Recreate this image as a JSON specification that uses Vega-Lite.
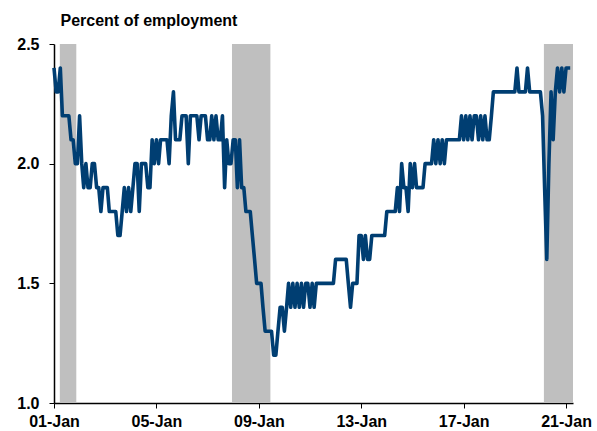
{
  "$schema": "https://vega.github.io/schema/vega-lite/v6.json",
  "width": 519,
  "height": 359,
  "autosize": "none",
  "padding": {"left": 54, "top": 44, "right": 24, "bottom": 28},
  "config": {"view": {"stroke": null}, "font": "Liberation Sans"},
  "datasets": {
    "rec": [
      {"start": "2001-03-25", "end": "2001-11-15"},
      {"start": "2007-12-15", "end": "2009-06-15"},
      {"start": "2020-02-20", "end": "2021-04-10"}
    ],
    "quits": [
      {"d":"2001-01-01","v":2.4},{"d":"2001-02-01","v":2.3},{"d":"2001-03-01","v":2.3},{"d":"2001-04-01","v":2.4},{"d":"2001-05-01","v":2.2},{"d":"2001-06-01","v":2.2},{"d":"2001-07-01","v":2.2},{"d":"2001-08-01","v":2.2},{"d":"2001-09-01","v":2.1},{"d":"2001-10-01","v":2.1},{"d":"2001-11-01","v":2.0},{"d":"2001-12-01","v":2.0},
      {"d":"2002-01-01","v":2.2},{"d":"2002-02-01","v":2.0},{"d":"2002-03-01","v":1.9},{"d":"2002-04-01","v":2.0},{"d":"2002-05-01","v":1.9},{"d":"2002-06-01","v":1.9},{"d":"2002-07-01","v":2.0},{"d":"2002-08-01","v":2.0},{"d":"2002-09-01","v":1.9},{"d":"2002-10-01","v":1.9},{"d":"2002-11-01","v":1.8},{"d":"2002-12-01","v":1.9},
      {"d":"2003-01-01","v":1.9},{"d":"2003-02-01","v":1.9},{"d":"2003-03-01","v":1.8},{"d":"2003-04-01","v":1.8},{"d":"2003-05-01","v":1.8},{"d":"2003-06-01","v":1.8},{"d":"2003-07-01","v":1.7},{"d":"2003-08-01","v":1.7},{"d":"2003-09-01","v":1.8},{"d":"2003-10-01","v":1.9},{"d":"2003-11-01","v":1.8},{"d":"2003-12-01","v":1.9},
      {"d":"2004-01-01","v":1.8},{"d":"2004-02-01","v":1.9},{"d":"2004-03-01","v":2.0},{"d":"2004-04-01","v":2.0},{"d":"2004-05-01","v":1.8},{"d":"2004-06-01","v":2.0},{"d":"2004-07-01","v":2.0},{"d":"2004-08-01","v":2.0},{"d":"2004-09-01","v":1.9},{"d":"2004-10-01","v":1.9},{"d":"2004-11-01","v":2.1},{"d":"2004-12-01","v":2.0},
      {"d":"2005-01-01","v":2.1},{"d":"2005-02-01","v":2.0},{"d":"2005-03-01","v":2.1},{"d":"2005-04-01","v":2.1},{"d":"2005-05-01","v":2.1},{"d":"2005-06-01","v":2.1},{"d":"2005-07-01","v":2.0},{"d":"2005-08-01","v":2.2},{"d":"2005-09-01","v":2.3},{"d":"2005-10-01","v":2.1},{"d":"2005-11-01","v":2.1},{"d":"2005-12-01","v":2.1},
      {"d":"2006-01-01","v":2.2},{"d":"2006-02-01","v":2.2},{"d":"2006-03-01","v":2.2},{"d":"2006-04-01","v":2.0},{"d":"2006-05-01","v":2.2},{"d":"2006-06-01","v":2.2},{"d":"2006-07-01","v":2.2},{"d":"2006-08-01","v":2.2},{"d":"2006-09-01","v":2.1},{"d":"2006-10-01","v":2.2},{"d":"2006-11-01","v":2.2},{"d":"2006-12-01","v":2.2},
      {"d":"2007-01-01","v":2.1},{"d":"2007-02-01","v":2.1},{"d":"2007-03-01","v":2.2},{"d":"2007-04-01","v":2.1},{"d":"2007-05-01","v":2.2},{"d":"2007-06-01","v":2.1},{"d":"2007-07-01","v":2.1},{"d":"2007-08-01","v":2.2},{"d":"2007-09-01","v":1.9},{"d":"2007-10-01","v":2.1},{"d":"2007-11-01","v":2.0},{"d":"2007-12-01","v":2.0},
      {"d":"2008-01-01","v":2.1},{"d":"2008-02-01","v":2.1},{"d":"2008-03-01","v":1.9},{"d":"2008-04-01","v":2.1},{"d":"2008-05-01","v":1.9},{"d":"2008-06-01","v":1.9},{"d":"2008-07-01","v":1.8},{"d":"2008-08-01","v":1.8},{"d":"2008-09-01","v":1.8},{"d":"2008-10-01","v":1.7},{"d":"2008-11-01","v":1.6},{"d":"2008-12-01","v":1.5},
      {"d":"2009-01-01","v":1.5},{"d":"2009-02-01","v":1.5},{"d":"2009-03-01","v":1.4},{"d":"2009-04-01","v":1.3},{"d":"2009-05-01","v":1.3},{"d":"2009-06-01","v":1.3},{"d":"2009-07-01","v":1.3},{"d":"2009-08-01","v":1.2},{"d":"2009-09-01","v":1.2},{"d":"2009-10-01","v":1.3},{"d":"2009-11-01","v":1.4},{"d":"2009-12-01","v":1.4},
      {"d":"2010-01-01","v":1.3},{"d":"2010-02-01","v":1.4},{"d":"2010-03-01","v":1.5},{"d":"2010-04-01","v":1.4},{"d":"2010-05-01","v":1.5},{"d":"2010-06-01","v":1.4},{"d":"2010-07-01","v":1.5},{"d":"2010-08-01","v":1.4},{"d":"2010-09-01","v":1.5},{"d":"2010-10-01","v":1.4},{"d":"2010-11-01","v":1.5},{"d":"2010-12-01","v":1.5},
      {"d":"2011-01-01","v":1.4},{"d":"2011-02-01","v":1.5},{"d":"2011-03-01","v":1.4},{"d":"2011-04-01","v":1.5},{"d":"2011-05-01","v":1.5},{"d":"2011-06-01","v":1.5},{"d":"2011-07-01","v":1.5},{"d":"2011-08-01","v":1.5},{"d":"2011-09-01","v":1.5},{"d":"2011-10-01","v":1.5},{"d":"2011-11-01","v":1.5},{"d":"2011-12-01","v":1.5},
      {"d":"2012-01-01","v":1.6},{"d":"2012-02-01","v":1.6},{"d":"2012-03-01","v":1.6},{"d":"2012-04-01","v":1.6},{"d":"2012-05-01","v":1.6},{"d":"2012-06-01","v":1.6},{"d":"2012-07-01","v":1.5},{"d":"2012-08-01","v":1.4},{"d":"2012-09-01","v":1.5},{"d":"2012-10-01","v":1.5},{"d":"2012-11-01","v":1.5},{"d":"2012-12-01","v":1.7},
      {"d":"2013-01-01","v":1.7},{"d":"2013-02-01","v":1.6},{"d":"2013-03-01","v":1.7},{"d":"2013-04-01","v":1.6},{"d":"2013-05-01","v":1.6},{"d":"2013-06-01","v":1.7},{"d":"2013-07-01","v":1.7},{"d":"2013-08-01","v":1.7},{"d":"2013-09-01","v":1.7},{"d":"2013-10-01","v":1.7},{"d":"2013-11-01","v":1.7},{"d":"2013-12-01","v":1.7},
      {"d":"2014-01-01","v":1.8},{"d":"2014-02-01","v":1.8},{"d":"2014-03-01","v":1.8},{"d":"2014-04-01","v":1.8},{"d":"2014-05-01","v":1.8},{"d":"2014-06-01","v":1.9},{"d":"2014-07-01","v":1.8},{"d":"2014-08-01","v":2.0},{"d":"2014-09-01","v":1.9},{"d":"2014-10-01","v":1.9},{"d":"2014-11-01","v":1.8},{"d":"2014-12-01","v":2.0},
      {"d":"2015-01-01","v":1.9},{"d":"2015-02-01","v":2.0},{"d":"2015-03-01","v":1.9},{"d":"2015-04-01","v":1.9},{"d":"2015-05-01","v":1.9},{"d":"2015-06-01","v":1.9},{"d":"2015-07-01","v":2.0},{"d":"2015-08-01","v":2.0},{"d":"2015-09-01","v":2.0},{"d":"2015-10-01","v":2.0},{"d":"2015-11-01","v":2.1},{"d":"2015-12-01","v":2.0},
      {"d":"2016-01-01","v":2.1},{"d":"2016-02-01","v":2.0},{"d":"2016-03-01","v":2.1},{"d":"2016-04-01","v":2.0},{"d":"2016-05-01","v":2.1},{"d":"2016-06-01","v":2.1},{"d":"2016-07-01","v":2.1},{"d":"2016-08-01","v":2.1},{"d":"2016-09-01","v":2.1},{"d":"2016-10-01","v":2.1},{"d":"2016-11-01","v":2.1},{"d":"2016-12-01","v":2.2},
      {"d":"2017-01-01","v":2.1},{"d":"2017-02-01","v":2.2},{"d":"2017-03-01","v":2.1},{"d":"2017-04-01","v":2.2},{"d":"2017-05-01","v":2.1},{"d":"2017-06-01","v":2.2},{"d":"2017-07-01","v":2.2},{"d":"2017-08-01","v":2.1},{"d":"2017-09-01","v":2.2},{"d":"2017-10-01","v":2.1},{"d":"2017-11-01","v":2.2},{"d":"2017-12-01","v":2.1},
      {"d":"2018-01-01","v":2.1},{"d":"2018-02-01","v":2.2},{"d":"2018-03-01","v":2.3},{"d":"2018-04-01","v":2.3},{"d":"2018-05-01","v":2.3},{"d":"2018-06-01","v":2.3},{"d":"2018-07-01","v":2.3},{"d":"2018-08-01","v":2.3},{"d":"2018-09-01","v":2.3},{"d":"2018-10-01","v":2.3},{"d":"2018-11-01","v":2.3},{"d":"2018-12-01","v":2.3},
      {"d":"2019-01-01","v":2.3},{"d":"2019-02-01","v":2.4},{"d":"2019-03-01","v":2.3},{"d":"2019-04-01","v":2.3},{"d":"2019-05-01","v":2.3},{"d":"2019-06-01","v":2.3},{"d":"2019-07-01","v":2.4},{"d":"2019-08-01","v":2.3},{"d":"2019-09-01","v":2.3},{"d":"2019-10-01","v":2.3},{"d":"2019-11-01","v":2.3},{"d":"2019-12-01","v":2.3},
      {"d":"2020-01-01","v":2.3},{"d":"2020-02-01","v":2.2},{"d":"2020-03-01","v":1.9},{"d":"2020-04-01","v":1.6},{"d":"2020-05-01","v":2.0},{"d":"2020-06-01","v":2.3},{"d":"2020-07-01","v":2.1},{"d":"2020-08-01","v":2.3},{"d":"2020-09-01","v":2.4},{"d":"2020-10-01","v":2.3},{"d":"2020-11-01","v":2.4},{"d":"2020-12-01","v":2.3},
      {"d":"2021-01-01","v":2.4},{"d":"2021-02-01","v":2.4},{"d":"2021-03-01","v":2.4}
    ]
  },
  "layer": [
    {
      "data": {"name": "rec"},
      "mark": {"type": "rect", "color": "#bfbfbf"},
      "encoding": {
        "x": {"field": "start", "type": "temporal"},
        "x2": {"field": "end"}
      }
    },
    {
      "data": {"name": "quits"},
      "mark": {"type": "line", "color": "#003e72", "strokeWidth": 3.6, "strokeJoin": "round"},
      "encoding": {
        "x": {
          "field": "d", "type": "temporal",
          "scale": {"type": "utc", "domain": [{"year": 2001, "month": 1, "date": 1, "utc": true}, {"year": 2021, "month": 4, "date": 10, "utc": true}], "nice": false},
          "axis": {
            "title": null,
            "values": [
              {"year": 2001, "month": 1, "date": 1, "utc": true},
              {"year": 2005, "month": 1, "date": 1, "utc": true},
              {"year": 2009, "month": 1, "date": 1, "utc": true},
              {"year": 2013, "month": 1, "date": 1, "utc": true},
              {"year": 2017, "month": 1, "date": 1, "utc": true},
              {"year": 2021, "month": 1, "date": 1, "utc": true}
            ],
            "format": "%y-%b",
            "grid": false,
            "domainColor": "#000000",
            "domainWidth": 1.5,
            "tickColor": "#000000",
            "tickSize": 5,
            "labelFont": "Liberation Sans",
            "labelFontSize": 16,
            "labelFontWeight": "bold",
            "labelColor": "#000000",
            "labelPadding": 5,
            "labelFlush": false,
            "labelOverlap": false
          }
        },
        "y": {
          "field": "v", "type": "quantitative",
          "scale": {"domain": [1, 2.5], "nice": false, "zero": false},
          "axis": {
            "values": [1, 1.5, 2, 2.5],
            "format": ".1f",
            "grid": false,
            "domainColor": "#000000",
            "domainWidth": 1.5,
            "tickColor": "#000000",
            "tickSize": 5,
            "labelFont": "Liberation Sans",
            "labelFontSize": 16,
            "labelFontWeight": "bold",
            "labelColor": "#000000",
            "labelPadding": 10,
            "labelFlush": false,
            "title": "Percent of employment",
            "titleAngle": 0,
            "titleAlign": "left",
            "titleBaseline": "alphabetic",
            "titleX": 6,
            "titleY": -19,
            "titleFont": "Liberation Sans",
            "titleFontSize": 16,
            "titleFontWeight": "bold",
            "titleColor": "#000000"
          }
        }
      }
    }
  ]
}
